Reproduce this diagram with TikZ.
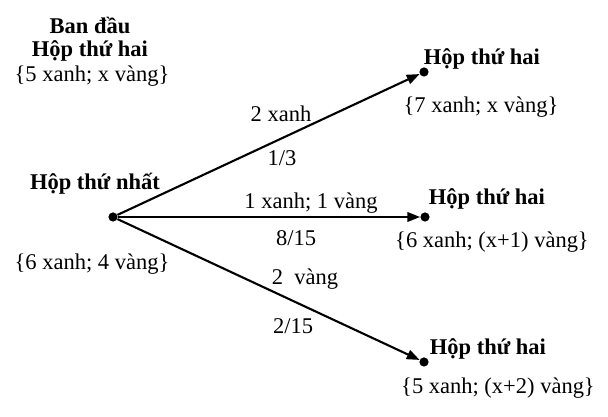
\documentclass[tikz,border=0pt]{standalone}
\usepackage{fontspec}
\setmainfont{Liberation Serif}
\usetikzlibrary{arrows.meta}

\begin{document}
\begin{tikzpicture}[font=\fontsize{16}{18}\selectfont,
	dot/.style={fill=black, circle, inner sep=0pt, minimum size=2.3mm},
	title/.style={font=\fontsize{16}{18}\selectfont\bfseries},
	branch/.style={line width=1.5pt, arrows={-{Triangle[length=3.2mm,width=2.4mm]}}}]
	\useasboundingbox (0,0) rectangle (15.2,10.425);
	\node[title] (start) at (2.25,9.8) {Ban đầu};
	\node[title] (startbox) at (2.25,9.15) {Hộp thứ hai};
	\node (startballs) at (2.3,8.525) {\{5 xanh; x vàng\}};
	\node[dot] (root) at (2.825,5.0) {};
	\node[title] (rootname) at (2.375,5.825) {Hộp thứ nhất};
	\node (rootballs) at (2.3,3.825) {\{6 xanh; 4 vàng\}};
	\node[dot] (top) at (10.6,8.625) {};
	\node[dot] (mid) at (10.625,5.0) {};
	\node[dot] (bot) at (10.6,1.375) {};
	\draw[branch] (root) -- (top);
	\draw[branch] (root) -- (mid);
	\draw[branch] (root) -- (bot);
	\node (tl) at (7.025,7.575) {2 xanh};
	\node (tp) at (7.05,6.475) {1/3};
	\node (ml) at (7.775,5.35) {1 xanh; 1 vàng};
	\node (mp) at (7.4,4.475) {8/15};
	\node (bl) at (7.625,3.45) {2 \ vàng};
	\node (bp) at (7.325,2.275) {2/15};
	\node[title] (topname) at (12.05,8.95) {Hộp thứ hai};
	\node (topballs) at (12.025,7.75) {\{7 xanh; x vàng\}};
	\node[title] (midname) at (12.175,5.45) {Hộp thứ hai};
	\node (midballs) at (12.3,4.375) {\{6 xanh; (x+1) vàng\}};
	\node[title] (botname) at (12.2,1.7) {Hộp thứ hai};
	\node (botballs) at (12.45,0.725) {\{5 xanh; (x+2) vàng\}};
\end{tikzpicture}
\end{document}
